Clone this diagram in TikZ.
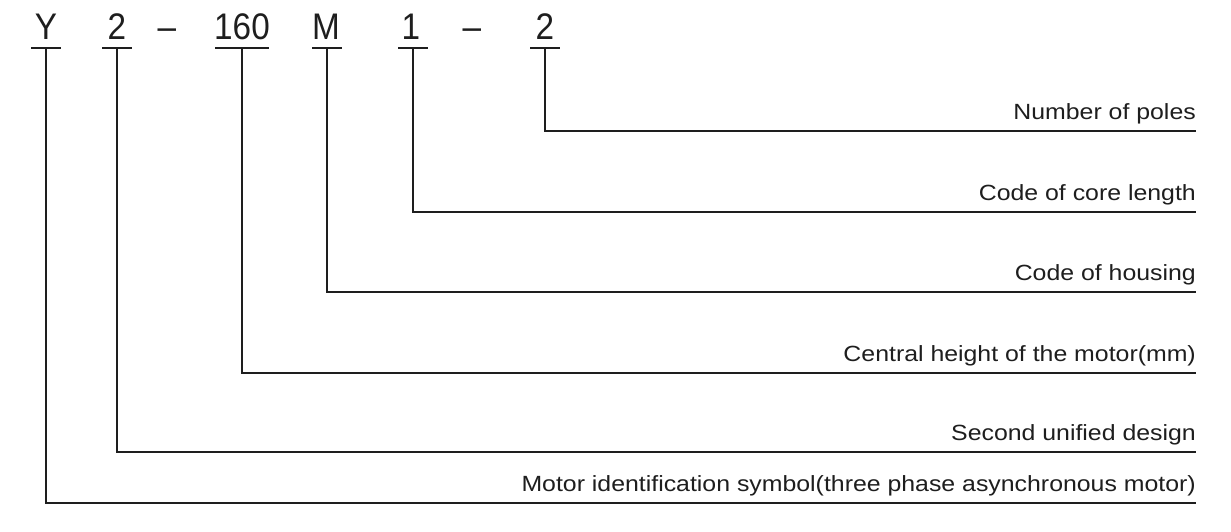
\documentclass[tikz,border=0pt]{standalone}
\usepackage{fontspec}
\newfontfamily\codefam[FakeStretch=0.9]{Liberation Sans}
\newfontfamily\lblfam[FakeStretch=1.13]{Liberation Sans}
\definecolor{ink}{HTML}{1E1E1E}
\begin{document}
\begin{tikzpicture}[x=1pt,y=-1pt,
  code/.style={font=\codefam\fontsize{37}{37}\selectfont, text=ink, inner sep=0pt, anchor=base},
  lbl/.style={font=\lblfam\fontsize{22}{22}\selectfont, text=ink, inner sep=0pt, anchor=base east},
  ln/.style={line width=2pt, draw=ink},
  bar/.style={line width=2pt, draw=ink}]
\useasboundingbox[fill=white] (0,0) rectangle (1231,532);
% code characters
\node[code] (cY) at (46,40) {Y};
\node[code] (c2) at (117,40) {2};
\node[code] (d1) at (167,40) {–};
\node[code] (c160) at (242,40) {160};
\node[code] (cM) at (326,40) {M};
\node[code] (c1) at (411,40) {1};
\node[code] (d2) at (472,40) {–};
\node[code] (c2b) at (545,40) {2};
% bar centres
\coordinate (bY) at (46,48);
\coordinate (b2) at (117,48);
\coordinate (b160) at (242,48);
\coordinate (bM) at (327,48);
\coordinate (b1) at (413,48);
\coordinate (b2b) at (545,48);
\foreach \b in {bY,b2,bM,b1,b2b}
  \draw[bar] ([xshift=-15pt]\b) -- ([xshift=15pt]\b);
\draw[bar] ([xshift=-27pt]b160) -- ([xshift=27pt]b160);
% line ends
\coordinate (eP) at (1196,131);
\coordinate (eC) at (1196,212);
\coordinate (eH) at (1196,292);
\coordinate (eZ) at (1196,373);
\coordinate (eS) at (1196,452);
\coordinate (eI) at (1196,503);
% labels
\node[lbl] (lP) at (1196,120) {Number of poles};
\node[lbl] (lC) at (1196,200) {Code of core length};
\node[lbl] (lH) at (1196,280) {Code of housing};
\node[lbl] (lZ) at (1196,361) {Central height of the motor(mm)};
\node[lbl] (lS) at (1196,440) {Second unified design};
\node[lbl] (lI) at (1196,491) {Motor identification symbol(three phase asynchronous motor)};
% connectors
\draw[ln] (b2b) |- (eP);
\draw[ln] (b1) |- (eC);
\draw[ln] (bM) |- (eH);
\draw[ln] (b160) |- (eZ);
\draw[ln] (b2) |- (eS);
\draw[ln] (bY) |- (eI);
\end{tikzpicture}
\end{document}
